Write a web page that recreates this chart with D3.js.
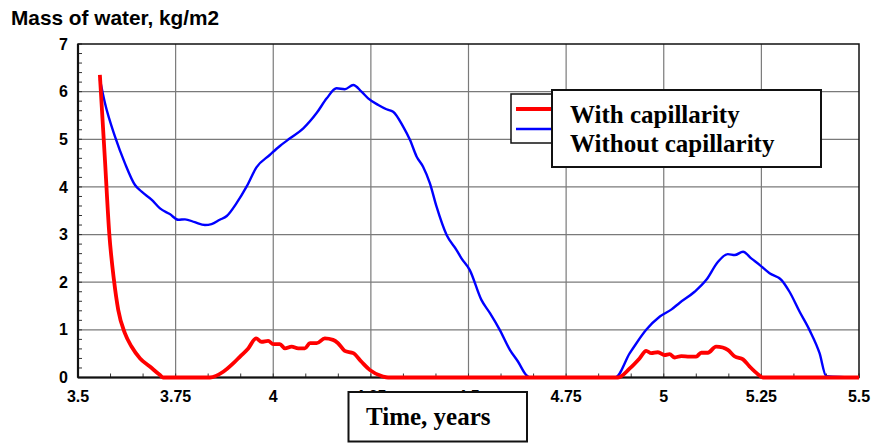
<!DOCTYPE html>
<html>
<head>
<meta charset="utf-8">
<script src="https://cdn.jsdelivr.net/npm/d3@7"></script>
<style>
  html, body { margin: 0; padding: 0; background: #ffffff; }
  svg { display: block; }
</style>
</head>
<body>
<svg id="chart" width="872" height="443"></svg>
<script>
// Water mass in the layer over time, with and without capillary transport
const yTickValues = [0, 1, 2, 3, 4, 5, 6, 7];
const xTickValues = [3.5, 3.75, 4, 4.25, 4.5, 4.75, 5, 5.25, 5.5];
const xTickLabels = ["3.5", "3.75", "4", "4.25", "4.5", "4.75", "5", "5.25", "5.5"];

const seriesNames = ["With capillarity", "Without capillarity"];

const timeWithCap = [3.556, 3.569, 3.580, 3.592, 3.603, 3.620, 3.637, 3.659, 3.684, 3.710, 3.718,
  3.838, 3.872, 3.898, 3.915, 3.936, 3.956, 3.970, 3.987, 4.000, 4.017, 4.030, 4.047, 4.064,
  4.081, 4.094, 4.111, 4.132, 4.153, 4.166, 4.183, 4.205, 4.226, 4.247, 4.281, 4.294,
  4.883, 4.913, 4.938, 4.955, 4.968, 4.985, 5.002, 5.015, 5.028, 5.045, 5.066, 5.083, 5.096,
  5.113, 5.134, 5.151, 5.164, 5.182, 5.203, 5.220, 5.241, 5.254, 5.5];
const massWithCap = [6.35, 4.57, 3.03, 2.05, 1.42, 0.93, 0.65, 0.40, 0.23, 0.05, 0,
  0, 0.12, 0.30, 0.44, 0.61, 0.82, 0.75, 0.77, 0.70, 0.70, 0.61, 0.65, 0.61,
  0.61, 0.72, 0.72, 0.82, 0.79, 0.72, 0.56, 0.51, 0.33, 0.16, 0.02, 0,
  0, 0.19, 0.40, 0.56, 0.51, 0.53, 0.47, 0.49, 0.42, 0.45, 0.44, 0.44, 0.52,
  0.52, 0.65, 0.63, 0.58, 0.44, 0.38, 0.23, 0.07, 0, 0];

const timeNoCap = [3.556, 3.569, 3.595, 3.620, 3.646, 3.663, 3.689, 3.710, 3.735, 3.757, 3.774,
  3.799, 3.825, 3.842, 3.863, 3.881, 3.906, 3.932, 3.957, 3.991, 4.017, 4.043, 4.077, 4.111,
  4.137, 4.162, 4.183, 4.205, 4.226, 4.243, 4.269, 4.290, 4.307, 4.333, 4.350, 4.367, 4.384,
  4.401, 4.418, 4.444, 4.469, 4.482, 4.503, 4.533, 4.555, 4.580, 4.606, 4.627, 4.648, 4.657,
  4.876, 4.913, 4.930, 4.955, 4.990, 5.020, 5.041, 5.079, 5.109, 5.139, 5.164, 5.182, 5.203,
  5.224, 5.246, 5.271, 5.301, 5.322, 5.348, 5.373, 5.399, 5.416, 5.5];
const massNoCap = [6.26, 5.76, 5.05, 4.50, 4.04, 3.90, 3.73, 3.55, 3.43, 3.31, 3.32,
  3.26, 3.20, 3.22, 3.31, 3.39, 3.66, 4.01, 4.41, 4.67, 4.86, 5.02, 5.23, 5.55,
  5.86, 6.07, 6.05, 6.14, 6.00, 5.86, 5.72, 5.63, 5.58, 5.26, 4.99, 4.64, 4.42,
  4.08, 3.59, 2.99, 2.68, 2.50, 2.26, 1.63, 1.35, 1.00, 0.58, 0.33, 0.05, 0,
  0, 0.51, 0.72, 1.00, 1.28, 1.43, 1.57, 1.80, 2.05, 2.43, 2.59, 2.57, 2.64,
  2.50, 2.36, 2.19, 2.05, 1.80, 1.38, 1.00, 0.51, 0.03, 0];

const svg = d3.select("#chart");
const plot = { left: 78, right: 859, top: 44, bottom: 377.5 };

const x = d3.scaleLinear().domain([3.5, 5.5]).range([plot.left, plot.right]);
const y = d3.scaleLinear().domain([0, 7]).range([plot.bottom, plot.top]);

// Title
svg.append("text")
  .attr("x", 11).attr("y", 25)
  .attr("font-family", "'Liberation Sans', Arial, sans-serif")
  .attr("font-weight", "bold").attr("font-size", 20.8)
  .attr("fill", "#000")
  .text("Mass of water, kg/m2");

// Plot background
svg.append("rect")
  .attr("x", plot.left).attr("y", plot.top)
  .attr("width", plot.right - plot.left).attr("height", plot.bottom - plot.top)
  .attr("fill", "#fff");

// Grid
const grid = svg.append("g");
grid.selectAll("line.h").data(yTickValues.slice(1, -1)).join("line")
  .attr("x1", plot.left).attr("x2", plot.right)
  .attr("y1", d => y(d)).attr("y2", d => y(d))
  .attr("stroke", "#7a7a7a").attr("stroke-width", 1.2);
grid.selectAll("line.v").data(xTickValues.slice(1, -1)).join("line")
  .attr("y1", plot.top).attr("y2", plot.bottom)
  .attr("x1", d => x(d)).attr("x2", d => x(d))
  .attr("stroke", "#7a7a7a").attr("stroke-width", 1.2);

// Minor ticks: 0.2 on the mass axis, monthly on the time axis (inward)
const yMinor = d3.range(0, 7.0001, 0.2);
svg.append("g").selectAll("line").data(yMinor).join("line")
  .attr("x1", plot.left).attr("x2", plot.left + 4)
  .attr("y1", d => y(d)).attr("y2", d => y(d))
  .attr("stroke", "#333").attr("stroke-width", 1);
const xMinor = d3.range(0, 25).map(i => 3.5 + i / 12);
svg.append("g").selectAll("line").data(xMinor).join("line")
  .attr("x1", d => x(d)).attr("x2", d => x(d))
  .attr("y1", plot.bottom).attr("y2", plot.bottom - 4)
  .attr("stroke", "#333").attr("stroke-width", 1);

// Frame
svg.append("rect")
  .attr("x", plot.left).attr("y", plot.top)
  .attr("width", plot.right - plot.left).attr("height", plot.bottom - plot.top)
  .attr("fill", "none").attr("stroke", "#111").attr("stroke-width", 1.5);
svg.append("line")
  .attr("x1", plot.left).attr("x2", plot.left)
  .attr("y1", plot.top).attr("y2", plot.bottom)
  .attr("stroke", "#111").attr("stroke-width", 2.2);
svg.append("line")
  .attr("x1", plot.left).attr("x2", plot.right)
  .attr("y1", plot.bottom).attr("y2", plot.bottom)
  .attr("stroke", "#111").attr("stroke-width", 2.2);

// Axis labels
const tickFont = "'Liberation Sans', Arial, sans-serif";
svg.append("g").selectAll("text").data(yTickValues).join("text")
  .attr("x", 68).attr("y", d => y(d) + 5.6)
  .attr("text-anchor", "end")
  .attr("font-family", tickFont).attr("font-weight", "bold").attr("font-size", 16)
  .text(d => d);
svg.append("g").selectAll("text").data(xTickValues).join("text")
  .attr("x", d => x(d)).attr("y", 401.5)
  .attr("text-anchor", "middle")
  .attr("font-family", tickFont).attr("font-weight", "bold").attr("font-size", 16)
  .text((d, i) => xTickLabels[i]);

// Series
const line = d3.line().x(d => x(d[0])).y(d => y(d[1])).curve(d3.curveMonotoneX);
const noCapPts = timeNoCap.map((t, i) => [t, massNoCap[i]]);
const withCapPts = timeWithCap.map((t, i) => [t, massWithCap[i]]);

svg.append("path").datum(noCapPts)
  .attr("d", line).attr("fill", "none")
  .attr("stroke", "#0000ff").attr("stroke-width", 2.4)
  .attr("stroke-linejoin", "round");
svg.append("path").datum(withCapPts)
  .attr("d", line).attr("fill", "none")
  .attr("stroke", "#ff0000").attr("stroke-width", 3.8)
  .attr("stroke-linejoin", "round");

// Legend: swatch box behind the text box
const legend = svg.append("g");
legend.append("rect")
  .attr("x", 511).attr("y", 94).attr("width", 45).attr("height", 49)
  .attr("fill", "#fff").attr("stroke", "#111").attr("stroke-width", 1.5);
legend.append("line")
  .attr("x1", 516).attr("x2", 552).attr("y1", 109).attr("y2", 109)
  .attr("stroke", "#ff0000").attr("stroke-width", 3.8);
legend.append("line")
  .attr("x1", 516).attr("x2", 552).attr("y1", 129).attr("y2", 129)
  .attr("stroke", "#0000ff").attr("stroke-width", 2.4);
legend.append("rect")
  .attr("x", 552).attr("y", 90).attr("width", 269).attr("height", 77)
  .attr("fill", "#fff").attr("stroke", "#111").attr("stroke-width", 2);
legend.selectAll("text").data(seriesNames).join("text")
  .attr("x", 570).attr("y", (d, i) => 123 + i * 29)
  .attr("font-family", "'Liberation Serif', 'Times New Roman', serif")
  .attr("font-weight", "bold").attr("font-size", 25)
  .text(d => d);

// X axis title box
svg.append("rect")
  .attr("x", 348.5).attr("y", 392).attr("width", 178.5).attr("height", 49.5)
  .attr("fill", "#fff").attr("stroke", "#111").attr("stroke-width", 2);
svg.append("text")
  .attr("x", 366).attr("y", 425)
  .attr("font-family", "'Liberation Serif', 'Times New Roman', serif")
  .attr("font-weight", "bold").attr("font-size", 25)
  .text("Time, years");
</script>
</body>
</html>
